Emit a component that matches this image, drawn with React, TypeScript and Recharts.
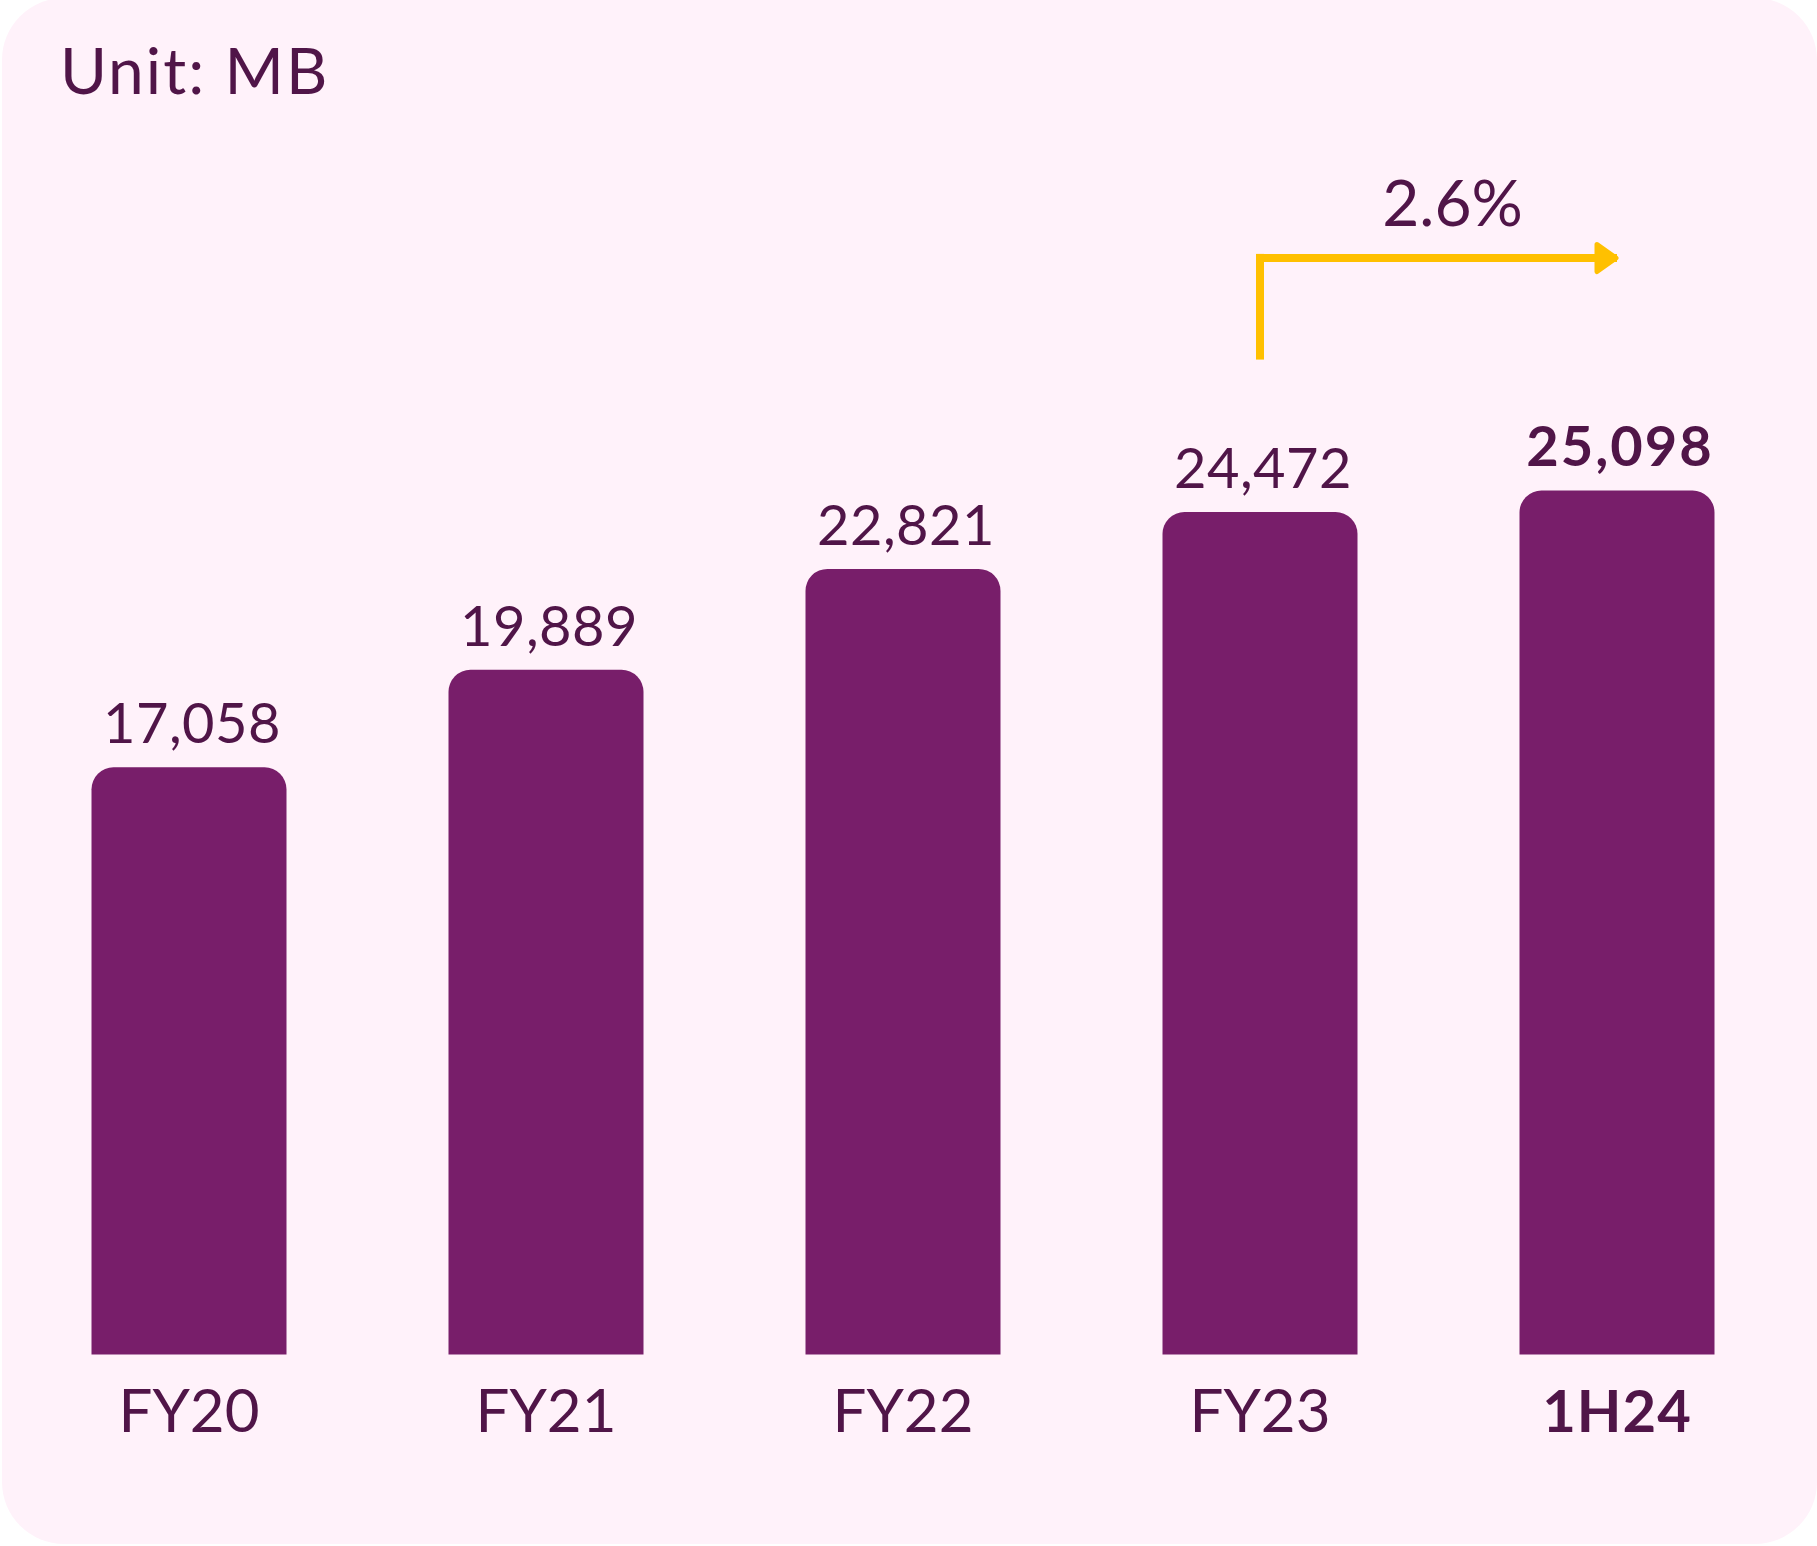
import React from 'react';
import { BarChart, Bar, XAxis, YAxis, LabelList, ReferenceLine, ReferenceDot } from 'recharts';

const periods = ['FY20', 'FY21', 'FY22', 'FY23', '1H24'];
const volumes = [17058, 19889, 22821, 24472, 25098];
const highlighted = ['1H24'];
const unitText = 'Unit: MB';

// growth annotation: bent arrow from FY23 to 1H24
const growthText = '2.6%';
const growthFrom = 'FY23';
const growthTo = '1H24';
const arrowStart = 28900;
const arrowTop = 31970;
const arrowLevel = 31850;

const ink = '#501548';
const barColor = '#781E6A';
const gold = '#FFC000';
const font = 'Lato, "Open Sans", sans-serif';

const data = periods.map((period, i) => ({ period, volume: volumes[i] }));

const PeriodTick = (props: any) => {
  const { x, y, payload } = props;
  const bold = highlighted.includes(payload.value);
  return (
    <text x={x} y={y + 77} textAnchor="middle" fontFamily={font} fontSize={bold ? 58 : 60}
      fontWeight={bold ? 700 : 400} letterSpacing={bold ? 1 : 0} fill={ink}>
      {payload.value}
    </text>
  );
};

const ValueLabel = (props: any) => {
  const vb = props.viewBox || props;
  const x = vb.x ?? props.x;
  const y = vb.y ?? props.y;
  const width = vb.width ?? props.width;
  const idx = props.index ?? volumes.indexOf(Number(props.value));
  const bold = highlighted.includes(periods[idx]);
  return (
    <text x={x + width / 2 + 3} y={y - 24} textAnchor="middle" fontFamily={font} fontSize={56}
      fontWeight={bold ? 700 : 400} letterSpacing={bold ? 2 : 0.5} fill={ink}>
      {Number(props.value).toLocaleString('en-US')}
    </text>
  );
};

const GrowthLabel = (props: any) => {
  const vb = props.viewBox || {};
  return (
    <text x={vb.x + vb.width / 2 + 14} y={vb.y - 32} textAnchor="middle" fontFamily={font}
      fontSize={64} fill={ink}>
      {growthText}
    </text>
  );
};

const ArrowHead = (props: any) => {
  const { cx, cy } = props;
  return (
    <polygon points={`${cx - 20},${cy - 13.5} ${cx - 1},${cy} ${cx - 20},${cy + 13.5}`}
      fill={gold} stroke={gold} strokeWidth={5} strokeLinejoin="round" />
  );
};

export default function App() {
  return (
    <div style={{ position: 'absolute', left: 0, top: 0, width: 1817, height: 1546, background: '#fff', overflow: 'hidden' }}>
      <svg width={1817} height={1546} style={{ position: 'absolute', left: 0, top: 0 }}>
        <rect x={2} y={-2} width={1815} height={1546} rx={62} ry={62} fill="#FFF2FA" />
        <text x={60} y={94} fontFamily={font} fontSize={64} letterSpacing={2} fill={ink}>{unitText}</text>
      </svg>
      <div style={{ position: 'absolute', left: 0, top: 0 }}>
        <BarChart width={1817} height={1546} data={data}
          margin={{ top: 184, right: 21.5, left: 10.5, bottom: 131.4 }}>
          <XAxis dataKey="period" axisLine={false} tickLine={false} tickSize={0} tickMargin={0}
            height={60} tick={<PeriodTick />} interval={0} />
          <YAxis hide domain={[0, 34000]} />
          <Bar dataKey="volume" fill={barColor} barSize={195} radius={[22, 22, 0, 0]} isAnimationActive={false}>
            <LabelList dataKey="volume" position="top" content={<ValueLabel />} />
          </Bar>
          <ReferenceLine segment={[{ x: growthFrom, y: arrowStart }, { x: growthFrom, y: arrowTop }]}
            stroke={gold} strokeWidth={8} ifOverflow="visible" />
          <ReferenceLine segment={[{ x: growthFrom, y: arrowLevel }, { x: growthTo, y: arrowLevel }]}
            stroke={gold} strokeWidth={8} ifOverflow="visible" label={GrowthLabel} />
          <ReferenceDot x={growthTo} y={arrowLevel} r={2} shape={ArrowHead} ifOverflow="visible" />
        </BarChart>
      </div>
    </div>
  );
}
